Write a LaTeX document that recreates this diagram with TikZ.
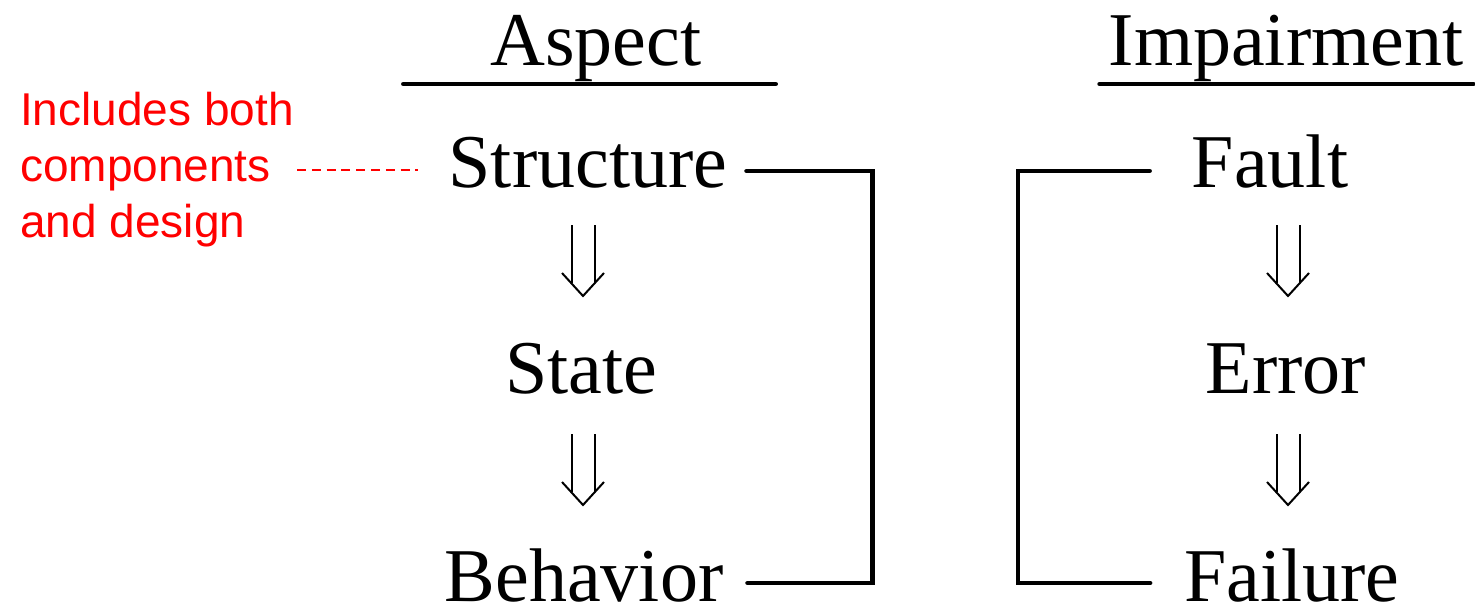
\documentclass[tikz,border=0pt]{standalone}
\usepackage{fontspec}
\setmainfont{Liberation Serif}
\newfontfamily\notefont{Liberation Sans}
\usetikzlibrary{positioning}

\begin{document}
\begin{tikzpicture}[x=1pt,y=-1pt,
  w/.style={inner sep=0pt,anchor=base,font=\fontsize{76}{80}\selectfont},
  rule/.style={line width=4.5pt,line cap=round},
  note/.style={text=red,inner sep=0pt,align=left,font=\notefont\fontsize{46}{56}\selectfont},
  noteline/.style={red,line width=2pt,dash pattern=on 9pt off 5.8pt},
  dn/.style={line width=2pt}]
\useasboundingbox (0,0) rectangle (1475,608);
% headings
\node[w] (aspect) at (596,65) {Aspect};
\node[w] (impair) at (1286,65) {Impairment};
\draw[rule] ([shift={(-87,19)}]aspect.base west) -- ([shift={(74,19)}]aspect.base east);
\draw[rule] ([shift={(-9,19)}]impair.base west) -- ([shift={(10,19)}]impair.base east);
% left column
\node[w] (structure) at (588,187) {Structure};
\node[w] (state) at (581,393) {State};
\node[w] (behavior) at (584,601) {Behavior};
% right column
\node[w] (fault) at (1270,187) {Fault};
\node[w] (error) at (1286,393) {Error};
\node[w] (failure) at (1292,601) {Failure};
% double arrows
\foreach \x/\y in {583/225,583/434,1288/225,1288/434}{
  \draw[dn] (\x-11.5,\y) -- (\x-11.5,\y+58) (\x+11.5,\y) -- (\x+11.5,\y+58);
  \draw[dn] (\x-21,\y+48) -- (\x,\y+71) -- (\x+21,\y+48);
}
% brackets
\draw[rule] ([shift={(19,-16)}]structure.base east) -| ([shift={(149,-18)}]behavior.base east) -- ([shift={(24,-18)}]behavior.base east);
\draw[rule] ([shift={(-42,-16)}]fault.base west) -| ([shift={(-166,-18)}]failure.base west) -- ([shift={(-34,-18)}]failure.base west);
% remark on structure
\node[note,anchor=north west] (note) at (20,92) {Includes both\\components\\and design};
\draw[noteline] ([xshift=3pt]note.east) -- ([xshift=-31pt]note.east -| structure.west);
\end{tikzpicture}
\end{document}
